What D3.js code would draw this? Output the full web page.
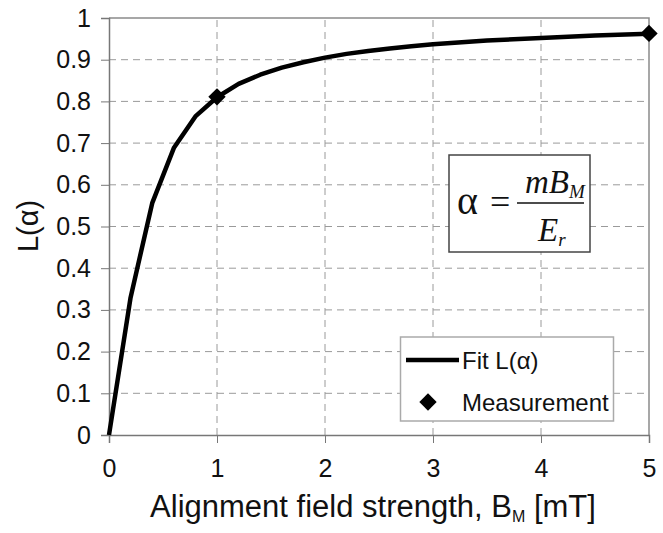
<!DOCTYPE html>
<html><head><meta charset="utf-8">
<script src="https://cdn.jsdelivr.net/npm/d3@7"></script>
<style>body{margin:0;background:#fff}svg{display:block}</style>
</head><body>
<script>
// Data
const fitB = [0, 0.2, 0.4, 0.6, 0.8, 1.0, 1.2, 1.4, 1.6, 1.8, 2.0, 2.2, 2.4, 2.6, 2.8, 3.0, 3.5, 4.0, 4.5, 5.0];
const fitL = [0, 0.33, 0.556, 0.688, 0.764, 0.81, 0.842, 0.864, 0.881, 0.894, 0.905, 0.914, 0.921, 0.927, 0.932, 0.937, 0.946, 0.952, 0.958, 0.962];
const measB = [1, 5];
const measL = [0.811, 0.963];
const xTicks = [0, 1, 2, 3, 4, 5];
const yTicks = [0, 0.1, 0.2, 0.3, 0.4, 0.5, 0.6, 0.7, 0.8, 0.9, 1];
const legendLabels = ["Fit L(α)", "Measurement"];

const W = 663, H = 533;
const svg = d3.select("body").append("svg").attr("width", W).attr("height", H);
const x = d3.scaleLinear().domain([0, 5]).range([109, 649]);
const y = d3.scaleLinear().domain([0, 1]).range([435, 18]);
const font = "'Liberation Sans', Arial, sans-serif";

// gridlines
const grid = svg.append("g").attr("stroke", "#9a9a9a").attr("stroke-width", 1).attr("stroke-dasharray", "7,5");
grid.selectAll("line.h").data(yTicks.filter(d => d > 0 && d < 1)).join("line")
  .attr("x1", x(0)).attr("x2", x(5)).attr("y1", d => y(d)).attr("y2", d => y(d));
grid.selectAll("line.v").data(xTicks.filter(d => d > 0 && d < 5)).join("line")
  .attr("y1", y(0)).attr("y2", y(1)).attr("x1", d => x(d)).attr("x2", d => x(d));

// frame top/right
svg.append("path").attr("d", `M${x(0)},${y(1)}H${x(5)}V${y(0)}`).attr("fill", "none").attr("stroke", "#8a8a8a").attr("stroke-width", 1.5);

// axes
const xAxis = svg.append("g").attr("transform", `translate(0,${y(0)})`)
  .call(d3.axisBottom(x).tickValues(xTicks).tickSize(8).tickPadding(16).tickFormat(d3.format("d")));
const yAxis = svg.append("g").attr("transform", `translate(${x(0)},0)`)
  .call(d3.axisLeft(y).tickValues(yTicks).tickSize(8).tickPadding(10).tickFormat(d => d === 0 || d === 1 ? d3.format("d")(d) : d3.format(".1f")(d)));
[xAxis, yAxis].forEach(g => {
  g.select(".domain").attr("stroke", "#777").attr("stroke-width", 1.5);
  g.selectAll(".tick line").attr("stroke", "#777").attr("stroke-width", 1);
  g.selectAll("text").attr("font-family", font).attr("font-size", 25).attr("fill", "#111");
});

// curve
const line = d3.line().x(i => x(fitB[i])).y(i => y(fitL[i]));
svg.append("path").attr("d", line(d3.range(fitB.length)))
  .attr("fill", "none").attr("stroke", "#000").attr("stroke-width", 4.5).attr("stroke-linejoin", "round");

// markers
svg.selectAll("path.m").data(measB).join("path").attr("class", "m")
  .attr("transform", (d, i) => `translate(${x(d)},${y(measL[i])}) rotate(45)`)
  .attr("d", d3.symbol().type(d3.symbolSquare).size(150)).attr("fill", "#000");

// axis titles
svg.append("text").attr("transform", `translate(38,226) rotate(-90)`).attr("text-anchor", "middle")
  .attr("font-family", font).attr("font-size", 29).attr("fill", "#111").text("L(α)");
const xt = svg.append("text").attr("x", 373).attr("y", 517).attr("text-anchor", "middle")
  .attr("font-family", font).attr("font-size", 31).attr("fill", "#111");
xt.append("tspan").text("Alignment field strength, B");
xt.append("tspan").attr("font-size", 16).attr("dy", 5).text("M");
xt.append("tspan").attr("dy", -5).text(" [mT]");

// formula box
const fb = svg.append("g");
fb.append("rect").attr("x", 449).attr("y", 155).attr("width", 141).attr("height", 97)
  .attr("fill", "#fff").attr("stroke", "#444").attr("stroke-width", 1.5);
const serif = "'Liberation Serif', 'Times New Roman', serif";
fb.append("text").attr("x", 457).attr("y", 214).attr("font-family", serif).attr("font-size", 40).attr("fill", "#111").text("α");
fb.append("text").attr("x", 490).attr("y", 214).attr("font-family", serif).attr("font-size", 36).attr("fill", "#111").text("=");
fb.append("line").attr("x1", 517).attr("x2", 584).attr("y1", 203).attr("y2", 203).attr("stroke", "#111").attr("stroke-width", 1.5);
const num = fb.append("text").attr("x", 525).attr("y", 193).attr("font-family", serif).attr("font-style", "italic").attr("font-size", 33).attr("fill", "#111");
num.append("tspan").text("mB");
num.append("tspan").attr("font-size", 19).attr("dy", 5).text("M");
const den = fb.append("text").attr("x", 538).attr("y", 241).attr("font-family", serif).attr("font-style", "italic").attr("font-size", 33).attr("fill", "#111");
den.append("tspan").text("E");
den.append("tspan").attr("font-size", 19).attr("dy", 5).text("r");

// legend
const lg = svg.append("g");
lg.append("rect").attr("x", 400.5).attr("y", 337).attr("width", 213).attr("height", 84)
  .attr("fill", "#fff").attr("stroke", "#aaa").attr("stroke-width", 1.5);
lg.append("line").attr("x1", 406).attr("x2", 459).attr("y1", 360).attr("y2", 360).attr("stroke", "#000").attr("stroke-width", 4.5);
lg.append("path").attr("transform", "translate(428,402) rotate(45)").attr("d", d3.symbol().type(d3.symbolSquare).size(150)).attr("fill", "#000");
lg.selectAll("text").data(legendLabels).join("text")
  .attr("x", 462).attr("y", (d, i) => 369 + i * 42)
  .attr("font-family", font).attr("font-size", 24).attr("fill", "#111").text(d => d);
</script>
</body></html>
